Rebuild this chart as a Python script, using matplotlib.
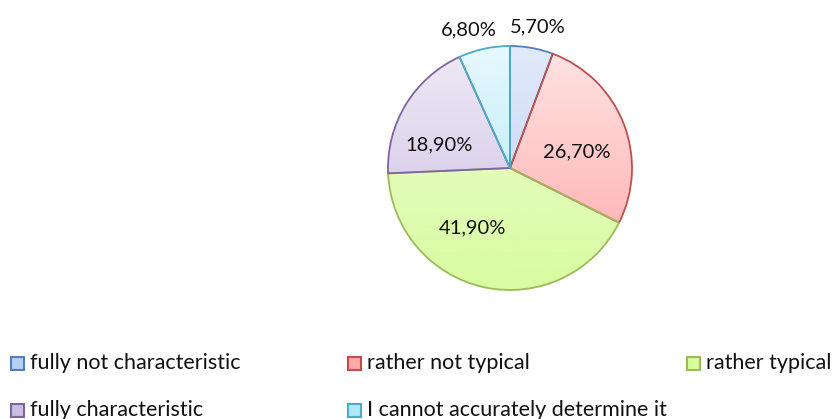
import numpy as np
import matplotlib.pyplot as plt
from matplotlib.patches import Rectangle
from matplotlib.colors import LinearSegmentedColormap

plt.rcParams['font.family'] = ['Lato', 'DejaVu Sans']

categories = ["fully not characteristic", "rather not typical", "rather typical",
              "fully characteristic", "I cannot accurately determine it"]
shares = [5.7, 26.7, 41.9, 18.9, 6.8]

edge_colors = ["#4f81bd", "#c0504d", "#9bbb59", "#8064a2", "#4bacc6"]
top_colors = ["#e2eafa", "#ffe4e4", "#eefcd4", "#f0eaf6", "#e6f8fd"]
bottom_colors = ["#b8cef6", "#ffa8a8", "#d8fca0", "#cabde2", "#aee8f8"]

W, H = 837, 419
fig = plt.figure(figsize=(W / 100, H / 100), dpi=100)

# pie axes: centre (510, 168), radius ~122 px
cx, cy, r = 510, 168, 122
ax = fig.add_axes([(cx - r) / W, 1 - (cy + r) / H, 2 * r / W, 2 * r / H])

wedges, _ = ax.pie(shares, startangle=90, counterclock=False, radius=1,
                   wedgeprops=dict(linewidth=1.3, facecolor='none'))
ax.set_xlim(-1, 1)
ax.set_ylim(-1, 1)
ax.set_aspect('equal')
ax.axis('off')

grad = np.linspace(1, 0, 256).reshape(-1, 1)
for w, ec, c0, c1 in zip(wedges, edge_colors, top_colors, bottom_colors):
    w.set_edgecolor(ec)
    w.set_zorder(3)
    cmap = LinearSegmentedColormap.from_list("g", [c1, c0])
    im = ax.imshow(grad, cmap=cmap, extent=[-1, 1, -1, 1], origin='upper',
                   aspect='auto', zorder=2)
    im.set_clip_path(w)

# value labels: small slices outside, the rest inside
label_r = [1.18, 0.56, 0.58, 0.61, 1.18]
label_nudge = [-1, -8, -20, 13, 4.5]
for w, v, lr, dn in zip(wedges, shares, label_r, label_nudge):
    ang = np.deg2rad((w.theta1 + w.theta2) / 2 + dn)
    ax.text(lr * np.cos(ang), lr * np.sin(ang), f"{v:.2f}".replace('.', ',') + "%",
            ha='center', va='center', fontsize=14.5, color='#111111', zorder=5,
            clip_on=False)

# legend
legend_pos = [(11, 363), (348, 363), (687, 363), (11, 410), (348, 410)]
for (lx, ly), name, ec, c0, c1 in zip(legend_pos, categories, edge_colors,
                                      top_colors, bottom_colors):
    fig.patches.append(Rectangle((lx / W, 1 - (ly + 7) / H), 13 / W, 13 / H,
                                 transform=fig.transFigure, facecolor=c1,
                                 edgecolor=ec, linewidth=1.5))
    fig.text((lx + 19) / W, 1 - ly / H, name, ha='left', va='center',
             fontsize=15.5, color='#111111')

fig.savefig("out.png", dpi=100)
